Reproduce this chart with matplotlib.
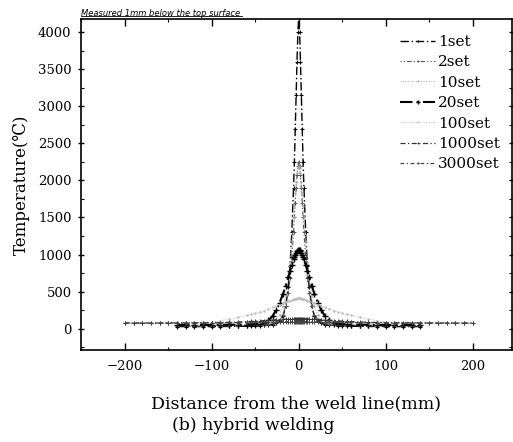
import numpy as np
import matplotlib
matplotlib.use("Agg")
import matplotlib.pyplot as plt
from matplotlib.ticker import MultipleLocator

plt.rcParams['font.family'] = ['DejaVu Serif', 'DejaVu Sans']

# right half of the profile (distance >= 0), the curves are mirrored about the weld line
x_half = [0, 1, 2, 3, 4, 5, 6, 8, 10, 12, 15, 18, 22, 26, 30, 35, 40, 45, 50, 55,
          60, 70, 80, 90, 100, 110, 120, 130, 140, 150, 160, 170, 180, 190, 200]
nan = np.nan

labels = ["1set", "2set", "10set", "20set", "100set", "1000set", "3000set"]

t_1set = [4200, 4000, 3600, 3150, 2700, 2250, 1900, 1300, 850, 560, 300, 170, 100, 70, 55,
          48, 42, 38, 35, 33, 32, 30, 29, 28, 28, 27, 27, 27, 27, nan, nan, nan, nan, nan, nan]
t_2set = [2250, 2200, 2080, 1900, 1700, 1500, 1300, 950, 680, 480, 300, 190, 120, 85, 70,
          60, 55, 50, 47, 45, 43, 40, 38, 36, 35, 34, 33, 33, 33, nan, nan, nan, nan, nan, nan]
t_10set = [2200, 2170, 2100, 1980, 1830, 1660, 1500, 1180, 900, 680, 450, 300, 190, 130, 100,
           80, 70, 65, 60, 57, 55, 52, 50, 48, 47, 46, 45, 45, 45, nan, nan, nan, nan, nan, nan]
t_20set = [1060, 1055, 1045, 1025, 1000, 970, 935, 860, 780, 700, 580, 470, 350, 250, 170,
           110, 80, 65, 60, 57, 55, 53, 52, 51, 50, 50, 50, 50, 50, nan, nan, nan, nan, nan, nan]
t_100set = [410, 409, 407, 404, 400, 397, 393, 386, 378, 370, 356, 342, 325, 306, 288,
            265, 243, 224, 207, 192, 178, 152, 128, 108, 92, 82, 76, 73, 71, 70, 70, 70, 70, 70, 70]
t_1000set = [135, 135, 134, 134, 133, 133, 132, 131, 130, 129, 127, 125, 122, 119, 116,
             112, 108, 104, 100, 97, 94, 89, 85, 82, 80, 79, 78, 77, 77, 76, 76, 76, 75, 75, 75]
t_3000set = [95, 95, 95, 95, 95, 94, 94, 94, 93, 93, 92, 92, 91, 90, 89,
             88, 87, 86, 85, 84, 83, 82, 81, 80, 79, 78, 78, 77, 77, 76, 76, 76, 76, 75, 75]

series = [t_1set, t_2set, t_10set, t_20set, t_100set, t_1000set, t_3000set]

styles = [
    dict(color="black", lw=1.0, dashes=(6, 2, 1, 2), marker="+", ms=3.5, mew=0.8),
    dict(color="#555555", lw=0.8, dashes=(1, 2, 1, 2, 4, 2), marker="+", ms=3, mew=0.7),
    dict(color="#aaaaaa", lw=0.7, linestyle=":", marker=".", ms=1.5),
    dict(color="black", lw=1.5, dashes=(6, 2, 1, 2), marker="+", ms=4, mew=1.0),
    dict(color="#bbbbbb", lw=0.7, linestyle=":", marker=".", ms=1.5),
    dict(color="#333333", lw=0.9, dashes=(4, 2, 1, 2), marker="+", ms=3, mew=0.7),
    dict(color="#444444", lw=0.9, dashes=(3, 2, 1, 2), marker="+", ms=3, mew=0.7),
]

xh = np.array(x_half, dtype=float)
x_full = np.concatenate([-xh[::-1], xh[1:]])

fig = plt.figure(figsize=(5.13, 4.42), dpi=100)
ax = fig.add_axes([0.157, 0.208, 0.8405, 0.749])

for lab, vals, st in zip(labels, series, styles):
    v = np.array(vals, dtype=float)
    y_full = np.concatenate([v[::-1], v[1:]])
    ax.plot(x_full, y_full, label=lab, **st)

ax.set_xlim(-251, 245)
ax.set_ylim(-290, 4180)
ax.xaxis.set_major_locator(MultipleLocator(100))
ax.xaxis.set_minor_locator(MultipleLocator(50))
ax.yaxis.set_major_locator(MultipleLocator(500))
ax.yaxis.set_minor_locator(MultipleLocator(250))
ax.tick_params(axis="x", which="major", direction="in", length=5, width=1.0,
               top=True, labelsize=9.5, pad=7)
ax.tick_params(axis="x", which="minor", direction="in", length=2.5, width=0.8, top=True)
ax.tick_params(axis="y", which="major", direction="inout", length=5, width=1.0,
               right=True, labelsize=9.5, pad=4)
ax.tick_params(axis="y", which="minor", direction="in", length=2.5, width=0.8, right=True)
for sp in ax.spines.values():
    sp.set_linewidth(1.2)

ax.set_ylabel("Temperature(℃)", fontsize=12, labelpad=6)
ax.set_xlabel("Distance from the weld line(mm)", fontsize=12.5, labelpad=16)
fig.text(0.493, 0.038, "(b) hybrid welding", fontsize=12.5, ha="center", va="center")

ax.set_title("Measured 1mm below the top surface", fontsize=6, family="DejaVu Sans",
             style="italic", loc="left", pad=2.5)
fig.add_artist(plt.Line2D([0.157, 0.471], [0.963, 0.963], color="black", lw=0.6))

ax.legend(loc="upper left", bbox_to_anchor=(0.741, 0.952), frameon=False,
          fontsize=11, numpoints=1, markerscale=0.6, handlelength=2.3, handletextpad=0.2,
          labelspacing=0.42, borderpad=0, borderaxespad=0)

fig.savefig("out.png", dpi=100)
